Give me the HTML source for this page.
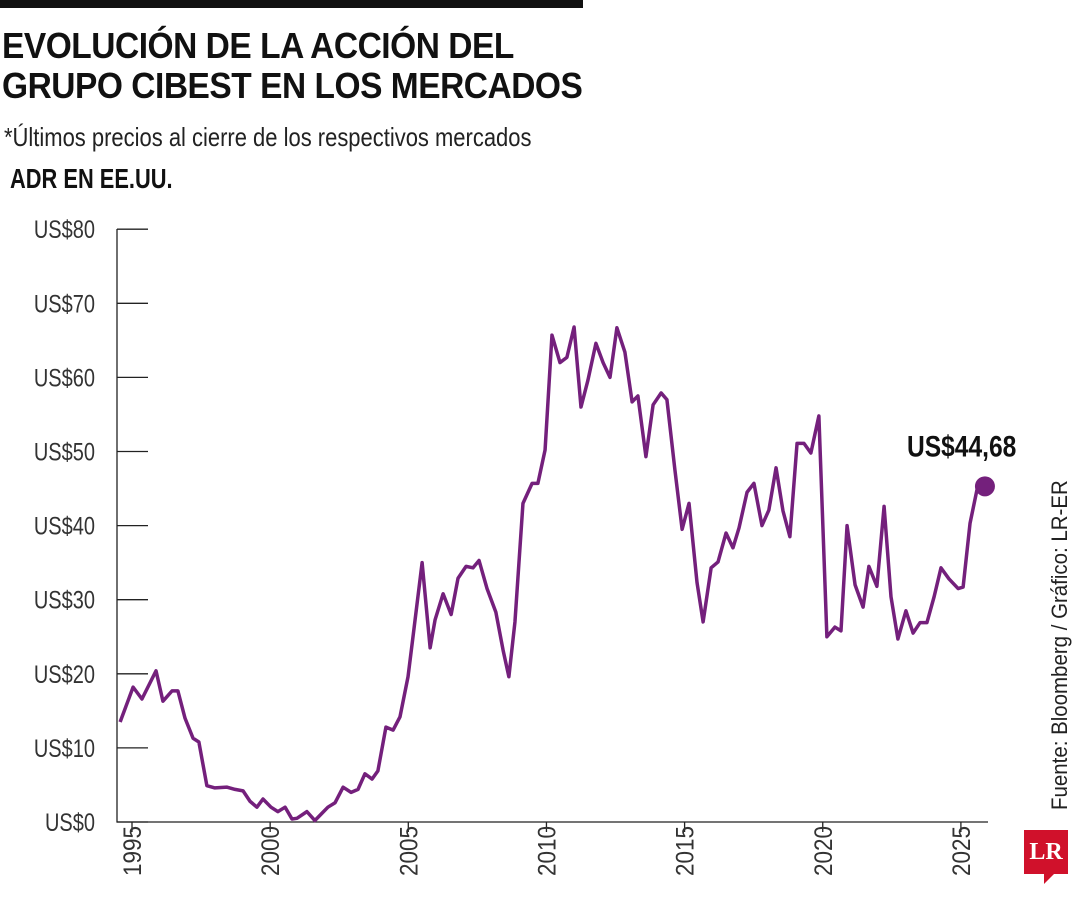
<!DOCTYPE html>
<html><head><meta charset="utf-8"><style>
body{margin:0;background:#fff;width:1080px;height:900px;overflow:hidden;font-family:"Liberation Sans",sans-serif}
.t{position:absolute;left:2px;font-weight:bold;font-size:36px;line-height:40px;color:#111;letter-spacing:-0.5px;transform:scaleX(0.93);transform-origin:0 0;white-space:nowrap}
</style></head><body>
<div style="position:absolute;left:0;top:0;width:583px;height:8px;background:#111"></div>
<div class="t" style="top:26px">EVOLUCIÓN DE LA ACCIÓN DEL<br>GRUPO CIBEST EN LOS MERCADOS</div>
<div style="position:absolute;left:4px;top:122px;font-size:26px;color:#222;transform:scaleX(0.845);transform-origin:0 0;white-space:nowrap">*Últimos precios al cierre de los respectivos mercados</div>
<div style="position:absolute;left:10px;top:163px;font-size:28px;font-weight:bold;color:#111;transform:scaleX(0.78);transform-origin:0 0;white-space:nowrap">ADR EN EE.UU.</div>
<svg id="c" width="1080" height="900" style="position:absolute;left:0;top:0"></svg>
<div style="position:absolute;left:1047px;top:810px;transform:rotate(-90deg) scaleX(0.93);transform-origin:0 0;white-space:nowrap;font-size:22px;color:#222">Fuente: Bloomberg / Gráfico: LR-ER</div>
<div style="position:absolute;left:1024px;top:830px;width:44px;height:44px;background:#d0112b;color:#fff;font-family:'Liberation Serif',serif;font-weight:bold;font-size:24px;line-height:44px;text-align:center">LR</div>
<div style="position:absolute;left:1044px;top:874px;width:0;height:0;border-left:10px solid #d0112b;border-bottom:10px solid transparent"></div>
<script>
const years=[1994.57,1995.04,1995.36,1995.87,1996.12,1996.45,1996.66,1996.92,1997.21,1997.42,1997.71,1998.0,1998.44,1998.73,1999.02,1999.27,1999.52,1999.74,2000.03,2000.28,2000.54,2000.79,2000.97,2001.33,2001.62,2001.88,2002.09,2002.35,2002.64,2002.93,2003.18,2003.43,2003.69,2003.9,2004.19,2004.45,2004.7,2004.99,2005.17,2005.5,2005.79,2005.97,2006.26,2006.55,2006.8,2007.09,2007.34,2007.56,2007.85,2008.17,2008.43,2008.64,2008.86,2009.15,2009.48,2009.69,2009.95,2010.2,2010.49,2010.74,2011.0,2011.25,2011.5,2011.79,2012.05,2012.3,2012.55,2012.84,2013.1,2013.31,2013.6,2013.86,2014.15,2014.36,2014.65,2014.91,2015.16,2015.45,2015.67,2015.96,2016.21,2016.5,2016.75,2016.97,2017.26,2017.51,2017.8,2018.05,2018.31,2018.56,2018.81,2019.07,2019.32,2019.57,2019.86,2020.15,2020.44,2020.66,2020.88,2021.17,2021.46,2021.67,2021.96,2022.22,2022.47,2022.72,2023.01,2023.27,2023.52,2023.77,2024.03,2024.28,2024.57,2024.9,2025.08,2025.33,2025.58,2025.87];
const prices=[13.5,18.2,16.6,20.4,16.3,17.7,17.7,14.0,11.3,10.8,4.9,4.6,4.7,4.4,4.2,2.8,2.0,3.1,2.0,1.4,2.0,0.4,0.5,1.4,0.2,1.2,2.0,2.6,4.7,4.0,4.4,6.5,5.8,6.9,12.8,12.4,14.2,19.6,25,35,23.5,27.3,30.8,28.0,32.9,34.5,34.3,35.3,31.5,28.3,23.2,19.6,27.0,43.0,45.7,45.7,50.2,65.7,62.0,62.7,66.8,56.0,59.6,64.6,62.0,60.0,66.7,63.4,56.7,57.5,49.3,56.3,57.9,57.0,47.5,39.5,43.0,32.3,27.0,34.3,35.1,39.0,37.0,39.7,44.5,45.7,40.0,42.1,47.8,42.0,38.5,51.1,51.1,49.8,54.8,25.0,26.3,25.8,40.0,32.0,29.0,34.5,31.8,42.6,30.4,24.7,28.5,25.5,26.9,26.9,30.4,34.3,32.8,31.5,31.7,40.3,44.8,45.3];
const yTicks=[0,10,20,30,40,50,60,70,80];
const xTicks=[1995,2000,2005,2010,2015,2020,2025];
const lastLabel="US$44,68";
const NS="http://www.w3.org/2000/svg",svg=document.getElementById('c');
const X=y=>132+(y-1995)*27.63, Y=v=>822-v*7.41;
function mk(t,a){const e=document.createElementNS(NS,t);for(const k in a)e.setAttribute(k,a[k]);svg.appendChild(e);return e;}
let ax=mk('path',{d:'M117 229V822H988',fill:'none',stroke:'#222','stroke-width':1.3});


yTicks.forEach(v=>{
 const l=mk('line',{x1:117,x2:148,y1:Y(v),y2:Y(v),stroke:'#222','stroke-width':1.3});
 
 
 const t=mk('text',{x:0,y:0,'text-anchor':'end','font-size':25,fill:'#333',transform:`translate(95,${Y(v)+9}) scale(0.8,1)`});
 t.textContent='US$'+v;
 
 
});
xTicks.forEach(y=>{
 const l=mk('line',{x1:X(y),x2:X(y),y1:822,y2:832,stroke:'#222','stroke-width':1.3});
 
 
 const t=mk('text',{x:0,y:0,'text-anchor':'end','font-size':25,fill:'#333',transform:`translate(${X(y)+9},826) rotate(-90) scale(0.9,1)`});
 t.textContent=y;
 
 
});
const ln=mk('polyline',{points:years.map((y,i)=>X(y)+','+Y(prices[i])).join(' '),fill:'none',stroke:'#74207c','stroke-width':3.5,'stroke-linejoin':'round'});


const n=years.length-1;
const d=mk('circle',{cx:X(years[n]),cy:Y(prices[n]),r:10,fill:'#74207c'});


const lt=mk('text',{x:0,y:0,'font-size':30,'font-weight':'bold',fill:'#111',transform:`translate(${X(years[n])-78},${Y(prices[n])-30}) scale(0.82,1)`});
lt.textContent=lastLabel;


</script>
</body></html>
